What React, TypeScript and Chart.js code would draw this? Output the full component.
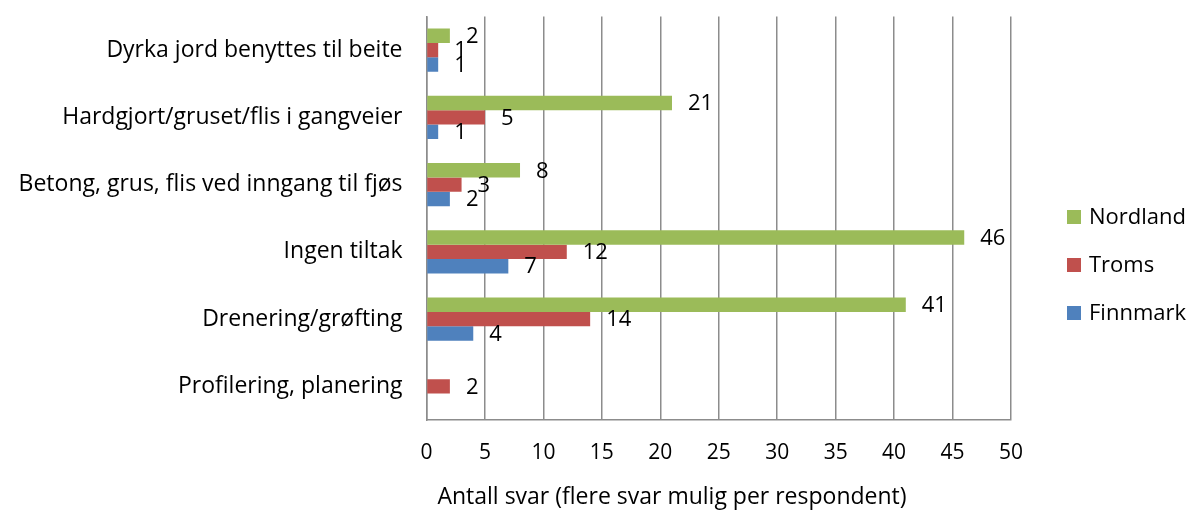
import React, { useEffect, useRef } from "react";
import { Chart, registerables } from "chart.js";

Chart.register(...registerables);

const categories = [
  "Dyrka jord benyttes til beite",
  "Hardgjort/gruset/flis i gangveier",
  "Betong, grus, flis ved inngang til fjøs",
  "Ingen tiltak",
  "Drenering/grøfting",
  "Profilering, planering",
];
const nordland = [2, 21, 8, 46, 41, null];
const troms = [1, 5, 3, 12, 14, 2];
const finnmark = [1, 1, 2, 7, 4, null];
const seriesNames = ["Nordland", "Troms", "Finnmark"];
const seriesColors = ["#9BBB59", "#C0504D", "#4F81BD"];
const axisTitle = "Antall svar (flere svar mulig per respondent)";

const FONT = "'Open Sans', 'Noto Sans', sans-serif";

const labelPlugin = {
  id: "barLabels",
  afterDatasetsDraw(chart: any) {
    const ctx = chart.ctx;
    ctx.save();
    ctx.font = `22px ${FONT}`;
    ctx.fillStyle = "#000";
    ctx.textAlign = "left";
    ctx.textBaseline = "middle";
    chart.data.datasets.forEach((ds: any, di: number) => {
      const meta = chart.getDatasetMeta(di);
      meta.data.forEach((bar: any, i: number) => {
        const v = ds.data[i];
        if (v === null || v === undefined) return;
        ctx.fillText(String(v), bar.x + 16, bar.y + 1);
      });
    });
    // legend
    const lx = 1067;
    const ys = [217, 265, 313];
    ctx.font = `22px ${FONT}`;
    seriesNames.forEach((n, i) => {
      ctx.fillStyle = seriesColors[i];
      ctx.fillRect(lx, ys[i] - 7, 14, 14);
      ctx.fillStyle = "#000";
      ctx.fillText(n, lx + 22, ys[i] + 1);
    });
    // axis title
    ctx.textAlign = "center";
    ctx.font = `23px ${FONT}`;
    ctx.fillText(axisTitle, 672, 497);
    ctx.restore();
  },
};

export default function App() {
  const ref = useRef<HTMLCanvasElement>(null);
  useEffect(() => {
    document.body.style.margin = "0";
    const chart = new Chart(ref.current!, {
      type: "bar",
      data: {
        labels: categories,
        datasets: [nordland, troms, finnmark].map((d, i) => ({
          label: seriesNames[i],
          data: d as any,
          backgroundColor: seriesColors[i],
          categoryPercentage: 0.64,
          barPercentage: 1,
        })),
      },
      options: {
        indexAxis: "y",
        animation: false,
        responsive: false,
        maintainAspectRatio: false,
        layout: { padding: { top: 16.5, right: 180, left: 0, bottom: 0 } },
        plugins: { legend: { display: false }, tooltip: { enabled: false } },
        scales: {
          x: {
            min: 0,
            max: 50,
            ticks: {
              stepSize: 5,
              color: "#000",
              font: { family: FONT, size: 21 },
              padding: 20,
            },
            grid: { color: "#8c8c8c", lineWidth: 1.5, drawTicks: false },
            border: { color: "#8c8c8c", width: 1.5 },
            afterFit: (s: any) => {
              s.height = 93;
            },
          },
          y: {
            ticks: {
              color: "#000",
              font: { family: FONT, size: 23 },
              padding: 24,
            },
            grid: { display: false, drawTicks: false },
            border: { color: "#8c8c8c", width: 1.5 },
            afterFit: (s: any) => {
              s.width = 426.5;
              s.paddingTop = 0;
              s.paddingBottom = 0;
            },
          },
        },
      },
      plugins: [labelPlugin],
    });
    return () => chart.destroy();
  }, []);
  return (
    <div style={{ width: 1191, height: 513 }}>
      <canvas ref={ref} width={1191} height={513} />
    </div>
  );
}
